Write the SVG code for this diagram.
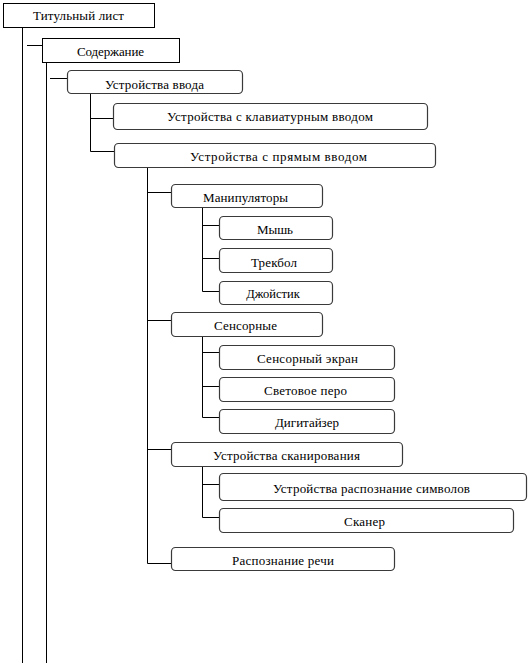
<svg xmlns="http://www.w3.org/2000/svg" width="530" height="664" viewBox="0 0 530 664">
<style>
.sq{fill:#fff;stroke:#000;stroke-width:1}
.rd{fill:#fff;stroke:#3a3a3a;stroke-width:1.2}
.c{stroke:#000;stroke-width:1;fill:none}
</style>
<rect width="530" height="664" fill="#fff"/>
<g id="connectors">
<path class="c" d="M22.5 27V663M27 45.5H42M46.5 62V663M50 78.5H67"/>
<path class="c" d="M90.5 94V151.5H114M90.5 118.5H113"/>
<path class="c" d="M147.5 167V563.5H171M147.5 192.5H171M147.5 320.5H171M147.5 449.5H171"/>
<path class="c" d="M202.5 207V291.5H219M202.5 225.5H219M202.5 258.5H219"/>
<path class="c" d="M202.5 336V417.5H219M202.5 352.5H219M202.5 386.5H219"/>
<path class="c" d="M202.5 466V517.5H219M202.5 484.5H219"/>
</g>
<g id="n1"><rect class="sq" x="3.5" y="3.5" width="151" height="24"/><text x="78.5" y="20" font-family="Liberation Serif" font-size="13" text-anchor="middle" textLength="91" lengthAdjust="spacing">Титульный лист</text></g>
<g id="n2"><rect class="sq" x="42.5" y="38.5" width="137" height="24"/><text x="110.5" y="56" font-family="Liberation Serif" font-size="13" text-anchor="middle" textLength="67" lengthAdjust="spacing">Содержание</text></g>
<g id="n3"><rect class="rd" x="67.5" y="70.5" width="175" height="23" rx="4"/><text x="154.5" y="88.5" font-family="Liberation Serif" font-size="13" text-anchor="middle" textLength="99" lengthAdjust="spacing">Устройства ввода</text></g>
<g id="n4"><rect class="rd" x="113.5" y="103.5" width="314" height="26" rx="4"/><text x="270" y="121" font-family="Liberation Serif" font-size="13" text-anchor="middle" textLength="206" lengthAdjust="spacing">Устройства  с клавиатурным вводом</text></g>
<g id="n5"><rect class="rd" x="114.5" y="143.5" width="321" height="24" rx="4"/><text x="278.5" y="161" font-family="Liberation Serif" font-size="13" text-anchor="middle" textLength="177" lengthAdjust="spacing">Устройства  с прямым вводом</text></g>
<g id="n6"><rect class="rd" x="171.5" y="184.5" width="151" height="23" rx="4"/><text x="245.5" y="201.5" font-family="Liberation Serif" font-size="13" text-anchor="middle" textLength="85" lengthAdjust="spacing">Манипуляторы</text></g>
<g id="n7"><rect class="rd" x="219.5" y="216.5" width="113" height="23" rx="4"/><text x="275" y="234" font-family="Liberation Serif" font-size="13" text-anchor="middle" textLength="36" lengthAdjust="spacing">Мышь</text></g>
<g id="n8"><rect class="rd" x="219.5" y="248.5" width="113" height="24" rx="4"/><text x="274" y="266.5" font-family="Liberation Serif" font-size="13" text-anchor="middle" textLength="46" lengthAdjust="spacing">Трекбол</text></g>
<g id="n9"><rect class="rd" x="219.5" y="281.5" width="113" height="23" rx="4"/><text x="273" y="298" font-family="Liberation Serif" font-size="12.5" text-anchor="middle">Джойстик</text></g>
<g id="n10"><rect class="rd" x="171.5" y="312.5" width="151" height="24" rx="4"/><text x="245.5" y="330" font-family="Liberation Serif" font-size="13" text-anchor="middle" textLength="63" lengthAdjust="spacing">Сенсорные</text></g>
<g id="n11"><rect class="rd" x="219.5" y="345.5" width="175" height="24" rx="4"/><text x="307.5" y="363" font-family="Liberation Serif" font-size="13" text-anchor="middle" textLength="101" lengthAdjust="spacing">Сенсорный экран</text></g>
<g id="n12"><rect class="rd" x="219.5" y="377.5" width="175" height="24" rx="4"/><text x="305.5" y="395" font-family="Liberation Serif" font-size="13" text-anchor="middle" textLength="83" lengthAdjust="spacing">Световое перо</text></g>
<g id="n13"><rect class="rd" x="219.5" y="409.5" width="175" height="24" rx="4"/><text x="307" y="427" font-family="Liberation Serif" font-size="13" text-anchor="middle" textLength="64" lengthAdjust="spacing">Дигитайзер</text></g>
<g id="n14"><rect class="rd" x="171.5" y="442.5" width="231" height="24" rx="4"/><text x="286.5" y="460" font-family="Liberation Serif" font-size="13" text-anchor="middle" textLength="147" lengthAdjust="spacing">Устройства  сканирования</text></g>
<g id="n15"><rect class="rd" x="219.5" y="473.5" width="307" height="27" rx="4"/><text x="371.5" y="492.5" font-family="Liberation Serif" font-size="13" text-anchor="middle" textLength="197" lengthAdjust="spacing">Устройства  распознание символов</text></g>
<g id="n16"><rect class="rd" x="219.5" y="508.5" width="294" height="24" rx="4"/><text x="364.5" y="526" font-family="Liberation Serif" font-size="13" text-anchor="middle" textLength="41" lengthAdjust="spacing">Сканер</text></g>
<g id="n17"><rect class="rd" x="171.5" y="547.5" width="223" height="23" rx="4"/><text x="283" y="564.5" font-family="Liberation Serif" font-size="13" text-anchor="middle" textLength="102" lengthAdjust="spacing">Распознание речи</text></g>
</svg>
